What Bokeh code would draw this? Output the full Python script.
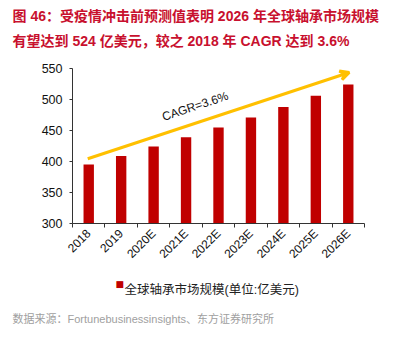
import math
from bokeh.plotting import figure
from bokeh.models import (ColumnDataSource, FixedTicker, Label, Arrow, VeeHead,
                          Range1d, Title)
from bokeh.embed import file_html
from bokeh.resources import INLINE

# ---- data ----
years = ["2018", "2019", "2020E", "2021E", "2022E", "2023E", "2024E", "2025E", "2026E"]
market_size = [395, 409, 424, 439, 455, 471, 488, 506, 524]
y_ticks = [300, 350, 400, 450, 500, 550]
series_name = "全球轴承市场规模(单位:亿美元)"
title_line1 = "图 46：受疫情冲击前预测值表明 2026 年全球轴承市场规模"
title_line2 = "有望达到 524 亿美元，较之 2018 年 CAGR 达到 3.6%"
cagr_text = "CAGR=3.6%"
source_text = "数据来源：Fortunebusinessinsights、东方证券研究所"

LAT = "Liberation Sans, Arial, Noto Sans CJK SC"
CJK = "Liberation Sans, Noto Sans CJK SC"

W, H = 402, 354
LEFT, RIGHT, TOP, BOTTOM = 72, 38, 68, 131

centers = [i + 0.5 for i in range(len(years))]
src = ColumnDataSource(dict(x=centers, top=market_size, label=years))

p = figure(width=W, height=H, output_backend="svg", toolbar_location=None,
           x_range=Range1d(0, len(years)), y_range=Range1d(300, 550),
           min_border_left=LEFT, min_border_right=RIGHT,
           min_border_top=TOP, min_border_bottom=BOTTOM,
           background_fill_color="white", border_fill_color="white",
           outline_line_color=None)
p.grid.visible = False

bars = p.vbar(x="x", top="top", bottom=300, width=0.32, source=src,
              fill_color="#C00000", line_color=None)

# x axis
xa = p.xaxis[0]
xa.ticker = FixedTicker(ticks=centers, minor_ticks=list(range(len(years) + 1)))
xa.major_label_overrides = {c: y for c, y in zip(centers, years)}
xa.major_label_orientation = math.pi / 4
xa.major_tick_out = 0
xa.major_tick_in = 0
xa.minor_tick_out = 4
xa.minor_tick_in = 0
xa.axis_line_color = "#333333"
xa.minor_tick_line_color = "#333333"
xa.major_label_text_font = LAT
xa.major_label_text_font_size = "12px"
xa.major_label_text_color = "#111111"
xa.major_label_standoff = 4

# y axis
ya = p.yaxis[0]
ya.ticker = FixedTicker(ticks=y_ticks)
ya.minor_tick_line_color = None
ya.major_tick_out = 3
ya.major_tick_in = 0
ya.axis_line_color = "#333333"
ya.major_tick_line_color = "#333333"
ya.major_label_text_font = LAT
ya.major_label_text_font_size = "12.5px"
ya.major_label_text_color = "#111111"
ya.major_label_standoff = 7

# CAGR arrow and label
p.add_layout(Arrow(x_start=0.47, y_start=404.5, x_end=8.53, y_end=543.5,
                   line_color="#FFC000", line_width=3,
                   end=VeeHead(size=9, line_color="#FFC000", line_width=3)))
p.add_layout(Label(x=3.78, y=489, text=cagr_text, angle=18.5, angle_units="deg",
                   text_align="center", text_baseline="middle",
                   text_font=LAT, text_font_size="12px", text_color="#111111"))

# titles: spacer nearest the frame, then line 2, then line 1
spacer = Title(text=" ", text_font_size="1px", standoff=13)
t2 = Title(text=title_line2, align="left", offset=-60, standoff=8, text_font=CJK,
           text_font_size="14px", text_font_style="bold", text_color="#C8102E")
t1 = Title(text=title_line1, align="left", offset=-60, standoff=6, text_font=CJK,
           text_font_size="14px", text_font_style="bold", text_color="#C8102E")
p.add_layout(spacer, "above")
p.add_layout(t2, "above")
p.add_layout(t1, "above")

# legend (drawn as labels in the area below the axis)
leg_text = Label(x=52, y=-14, x_units="screen", y_units="screen", text=series_name,
                 text_font=CJK, text_font_size="12.5px", text_color="#222222",
                 text_baseline="bottom")
p.add_layout(leg_text, "below")
leg_box = Label(x=43, y=4, x_units="screen", y_units="screen", text="■",
                text_font="DejaVu Sans", text_font_size="9px", text_color="#C00000",
                text_baseline="bottom")
p.add_layout(leg_box, "below")

src_title = Title(text=source_text, align="left", offset=-60, standoff=36, text_font=CJK,
                  text_font_size="11px", text_font_style="normal", text_color="#A0A0A0")
p.add_layout(src_title, "below")

open("out.html", "w").write(file_html(p, INLINE))
